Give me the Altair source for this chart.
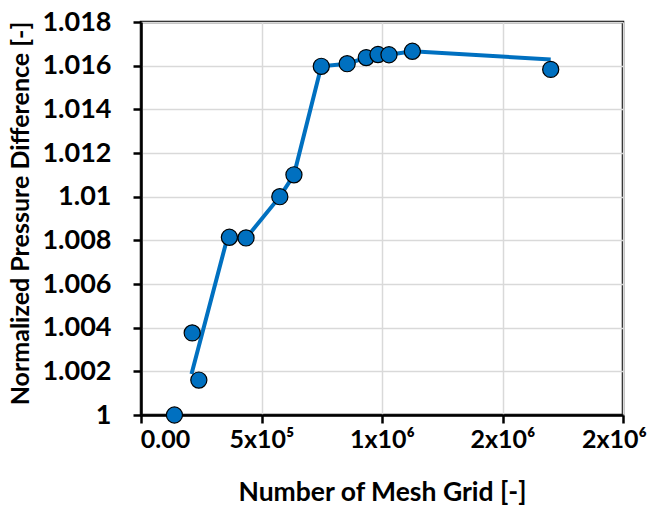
import altair as alt
import pandas as pd

# Scatter points (mesh count, normalized pressure difference)
mesh = [138750, 212500, 240000, 366700, 435800, 576000, 634600, 748000,
        855400, 934600, 983300, 1029000, 1126000, 1700000]
pdiff = [1.0000, 1.00376, 1.0016, 1.00814, 1.00811, 1.0100, 1.0110, 1.01597,
         1.01609, 1.01637, 1.01651, 1.0165, 1.01666, 1.01583]

# Connecting line vertices (as drawn in the figure)
line_mesh = [209600, 358000, 435800, 576000, 634600, 748000, 855400,
             934600, 983300, 1029000, 1126000, 1700000]
line_pdiff = [1.00188, 1.0081, 1.0081, 1.0100, 1.0110, 1.01597, 1.01609,
              1.01637, 1.01651, 1.0165, 1.01666, 1.01628]

x_ticks = [0, 500000, 1000000, 1500000, 2000000]
x_labels = ["0.00", "5x10⁵", "1x10⁶", "2x10⁶", "2x10⁶"]
y_ticks = [1.000, 1.002, 1.004, 1.006, 1.008, 1.010, 1.012, 1.014, 1.016, 1.018]

pts = pd.DataFrame({"mesh": mesh, "pdiff": pdiff})
ln = pd.DataFrame({"mesh": line_mesh, "pdiff": line_pdiff})

label_expr = ""
for v, l in zip(x_ticks, x_labels):
    label_expr += f"datum.value == {v} ? '{l}' : "
label_expr += "''"

FONT = "Lato"
BLUE = "#0070C0"

x_enc = alt.X("mesh:Q",
              scale=alt.Scale(domain=[0, 2000000], nice=False, zero=False),
              axis=alt.Axis(values=x_ticks, labelExpr=label_expr,
                            title="Number of Mesh Grid [-]",
                            titleX=241, titleY=77, titleBaseline="middle",
                            titleAnchor="middle", labelFontSize=25,
                            titleFontSize=26.5,
                            labelOffset={"condition": [
                                {"test": "datum.value == 0", "value": 24},
                                {"test": "datum.value == 2000000", "value": -9}],
                                "value": 0},
                            labelPadding=4, tickSize=8))
y_enc = alt.Y("pdiff:Q",
              scale=alt.Scale(domain=[1.0, 1.018], nice=False, zero=False),
              axis=alt.Axis(values=y_ticks, format=".3~f",
                            title="Normalized Pressure Difference [-]",
                            titleX=-121, titleY=191, titleAngle=-90,
                            titleBaseline="middle", titleAnchor="middle",
                            labelFontSize=27, titleFontSize=25,
                            labelPadding=22, tickSize=8))

line = alt.Chart(ln).mark_line(color=BLUE, strokeWidth=4).encode(x=x_enc, y=y_enc)
points = alt.Chart(pts).mark_point(filled=True, color=BLUE, size=260, opacity=1,
                                   stroke="black", strokeWidth=1.2, shape="circle").encode(x=x_enc, y=y_enc)

chart = (line + points).properties(
    width=482, height=393,
    autosize=alt.AutoSizeParams(type="none"),
    padding={"left": 141, "top": 22, "right": 28, "bottom": 90},
    background="white",
).configure_view(
    stroke="black", strokeWidth=2.5
).configure_axis(
    labelFont=FONT, titleFont=FONT, labelFontWeight="bold", titleFontWeight="bold",
    labelColor="black", titleColor="black",
    domainColor="black", domainWidth=2.5, tickColor="black", tickWidth=2.5,
    gridColor="#d9d9d9", gridWidth=1.5, labelFlush=False, labelOverlap=False,
)

chart.save("out.html", embed_options={"renderer": "svg", "actions": False})
